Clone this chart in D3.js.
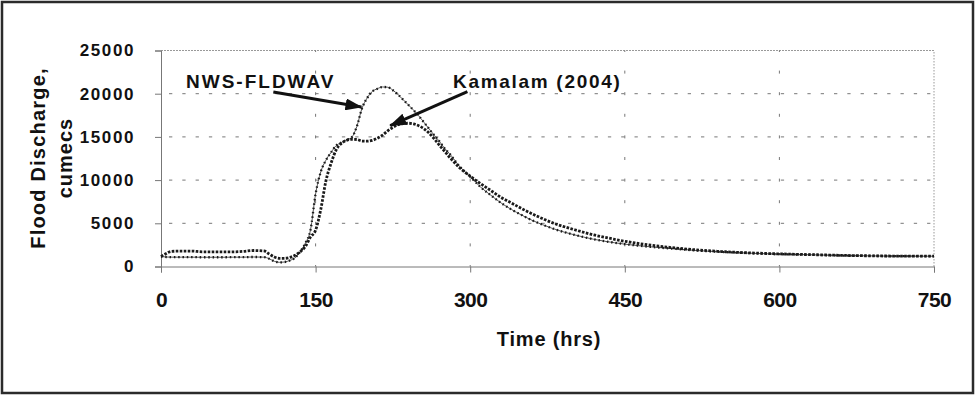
<!DOCTYPE html>
<html>
<head>
<meta charset="utf-8">
<script src="https://cdn.jsdelivr.net/npm/d3@7"></script>
<style>
  html, body { margin: 0; padding: 0; background: #fff; }
  svg { display: block; }
  text { font-family: "Liberation Sans", Arial, sans-serif; font-weight: bold; fill: #111; }
</style>
</head>
<body>
<svg id="chart"></svg>
<script>
const hours = [
  0, 5, 10, 20, 30, 40, 50, 60, 70, 80, 90, 100, 105, 110, 115, 120, 125,
  130, 135, 140, 145, 150, 155, 160, 165, 170, 175, 180, 185, 190, 195, 200,
  205, 210, 215, 220, 225, 230, 235, 240, 245, 250, 255, 260, 265, 270, 275,
  280, 290, 300, 310, 320, 330, 340, 350, 360, 370, 380, 390, 400, 420, 440,
  460, 480, 500, 520, 540, 560, 580, 600, 620, 640, 660, 680, 700, 720, 750,
];

// Flood discharge, cumecs
const nwsFldwav = [
  1150, 1100, 1080, 1080, 1080, 1070, 1070, 1070, 1080, 1080, 1100, 1080, 900, 600, 480, 520, 700,
  1000, 1700, 2700, 4200, 8400, 10950, 12300, 13200, 14000, 14350, 14650, 14950, 16200, 18300, 19500,
  20250, 20580, 20780, 20750, 20400, 19900, 19300, 18700, 18100, 17450, 16700, 15950, 15200, 14500, 13700,
  13050, 11550, 10400, 9200, 8250, 7350, 6600, 5950, 5350, 4850, 4400, 4020, 3700, 3150, 2750,
  2450, 2220, 2030, 1850, 1710, 1600, 1500, 1430, 1380, 1330, 1270, 1240, 1210, 1200, 1190,
];

const kamalam2004 = [
  1150, 1500, 1750, 1780, 1780, 1700, 1700, 1700, 1700, 1750, 1850, 1800, 1450, 1100, 950, 950, 1050,
  1300, 1700, 2300, 3400, 4200, 6600, 9900, 11950, 13500, 14250, 14600, 14720, 14700, 14520, 14500,
  14600, 14850, 15200, 15700, 16100, 16400, 16550, 16580, 16500, 16300, 15950, 15450, 14800, 14050, 13350,
  12650, 11400, 10450, 9600, 8800, 8000, 7350, 6700, 6100, 5550, 5050, 4650, 4300, 3650, 3150,
  2720, 2400, 2130, 1920, 1760, 1630, 1540, 1460, 1400, 1350, 1290, 1250, 1220, 1200, 1200,
];

const xTicks = [0, 150, 300, 450, 600, 750];
const yTicks = [0, 5000, 10000, 15000, 20000, 25000];

// Annotation labels and arrows, in data units [hrs, cumecs]
const labels = [
  { text: "NWS-FLDWAV", at: [24.3, 20660], from: [109, 20200], to: [194.5, 18450] },
  { text: "Kamalam (2004)", at: [283.3, 20660], from: [297.3, 20250], to: [222.4, 16300] },
];

const width = 975;
const height = 396;

const svg = d3.select("#chart").attr("width", width).attr("height", height);

svg.append("rect")
  .attr("x", 2).attr("y", 2)
  .attr("width", width - 4).attr("height", height - 5)
  .attr("fill", "#fff")
  .attr("stroke", "#2b2b2b")
  .attr("stroke-width", 2.5);

const x = d3.scaleLinear().domain([0, 750]).range([161, 934]);
const y = d3.scaleLinear().domain([0, 25000]).range([266.5, 50.5]);

const grid = svg.append("g");

// horizontal dashed gridlines
grid.selectAll("line.h")
  .data(yTicks.filter((v) => v > 0 && v < 25000))
  .join("line")
  .attr("class", "h")
  .attr("x1", x(0)).attr("x2", x(750))
  .attr("y1", (d) => y(d)).attr("y2", (d) => y(d))
  .attr("stroke", "#777")
  .attr("stroke-dasharray", "3.3 10")
  .attr("stroke-dashoffset", -8);

// top line of plot area
grid.append("line")
  .attr("x1", x(0)).attr("x2", x(750))
  .attr("y1", y(25000)).attr("y2", y(25000))
  .attr("stroke", "#999")
  .attr("stroke-dasharray", "2 1");

// vertical dashed gridlines
grid.selectAll("line.v")
  .data(xTicks.filter((v) => v > 0 && v < 750))
  .join("line")
  .attr("class", "v")
  .attr("x1", (d) => x(d)).attr("x2", (d) => x(d))
  .attr("y1", y(0)).attr("y2", y(25000))
  .attr("stroke", "#777")
  .attr("stroke-dasharray", "3 18.6")
  .attr("stroke-dashoffset", 1.5);

// right edge of plot area
grid.append("line")
  .attr("x1", x(750)).attr("x2", x(750))
  .attr("y1", y(0)).attr("y2", y(25000))
  .attr("stroke", "#999")
  .attr("stroke-dasharray", "1.5 1.5");

// axes
const xAxis = svg.append("g")
  .attr("transform", `translate(0,${y(0)})`)
  .call(d3.axisBottom(x).tickValues(xTicks).tickSize(6).tickPadding(20));
xAxis.select(".domain").attr("stroke", "#777");
xAxis.selectAll(".tick line").attr("stroke", "#777");
xAxis.selectAll(".tick text")
  .attr("font-size", 21)
  .attr("letter-spacing", -0.5)
  .attr("fill", "#111");

const yAxis = svg.append("g")
  .attr("transform", `translate(${x(0)},0)`)
  .call(d3.axisLeft(y).tickValues(yTicks).tickSize(6).tickPadding(20).tickFormat(d3.format("d")));
yAxis.select(".domain").attr("stroke", "#777");
yAxis.selectAll(".tick line").attr("stroke", "#777");
yAxis.selectAll(".tick text")
  .attr("font-size", 17)
  .attr("letter-spacing", 1.6)
  .attr("fill", "#111");

// axis titles
svg.append("text")
  .attr("x", 549).attr("y", 346)
  .attr("text-anchor", "middle")
  .attr("font-size", 20)
  .attr("letter-spacing", 0.8)
  .text("Time (hrs)");

const yTitle = svg.append("g").attr("transform", "translate(0,158) rotate(-90)");
yTitle.append("text")
  .attr("x", 0).attr("y", 45)
  .attr("text-anchor", "middle")
  .attr("font-size", 20)
  .attr("letter-spacing", 1.2)
  .text("Flood Discharge,");
yTitle.append("text")
  .attr("x", 0).attr("y", 72)
  .attr("text-anchor", "middle")
  .attr("font-size", 20)
  .attr("letter-spacing", 1)
  .text("cumecs");

// series
const line = (values) => d3.line()
  .x((d, i) => x(hours[i]))
  .y((d) => y(d))
  .curve(d3.curveMonotoneX)(values);

const series = svg.append("g");

// NWS-FLDWAV: thin line with small dot markers
series.append("path")
  .attr("d", line(nwsFldwav))
  .attr("fill", "none")
  .attr("stroke", "#555")
  .attr("stroke-width", 1);
series.append("path")
  .attr("d", line(nwsFldwav))
  .attr("fill", "none")
  .attr("stroke", "#1a1a1a")
  .attr("stroke-width", 2.3)
  .attr("stroke-dasharray", "1.5 2.8");

// Kamalam (2004): chain of heavier markers
series.append("path")
  .attr("d", line(kamalam2004))
  .attr("fill", "none")
  .attr("stroke", "#1a1a1a")
  .attr("stroke-width", 2.8)
  .attr("stroke-dasharray", "2.6 1.4");

// arrowhead marker
svg.append("defs").append("marker")
  .attr("id", "head")
  .attr("markerUnits", "userSpaceOnUse")
  .attr("viewBox", "0 0 17 12")
  .attr("refX", 16).attr("refY", 6)
  .attr("markerWidth", 17).attr("markerHeight", 12)
  .attr("orient", "auto")
  .append("path")
  .attr("d", "M0,0 L17,6 L0,12 Z")
  .attr("fill", "#111");

const notes = svg.append("g");
notes.selectAll("line")
  .data(labels)
  .join("line")
  .attr("x1", (d) => x(d.from[0])).attr("y1", (d) => y(d.from[1]))
  .attr("x2", (d) => x(d.to[0])).attr("y2", (d) => y(d.to[1]))
  .attr("stroke", "#111")
  .attr("stroke-width", 3)
  .attr("marker-end", "url(#head)");
notes.selectAll("text")
  .data(labels)
  .join("text")
  .attr("x", (d) => x(d.at[0])).attr("y", (d) => y(d.at[1]))
  .attr("font-size", 19)
  .attr("letter-spacing", (d, i) => (i === 0 ? 2 : 1.7))
  .text((d) => d.text);
</script>
</body>
</html>
